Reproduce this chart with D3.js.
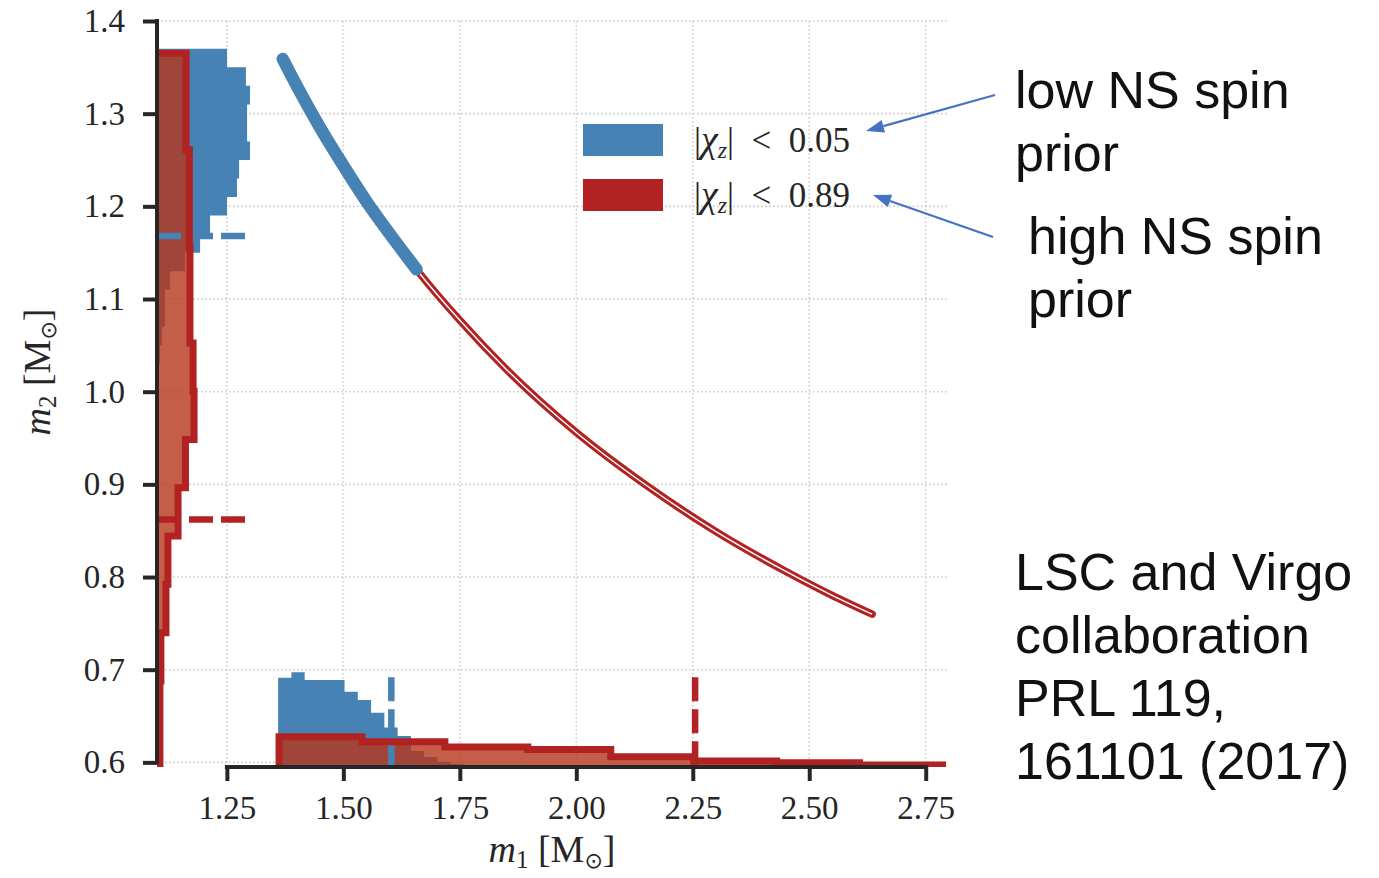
<!DOCTYPE html>
<html>
<head>
<meta charset="utf-8">
<script src="https://cdn.jsdelivr.net/npm/d3@7"></script>
<style>
  body { margin: 0; background: #fff; }
  svg { display: block; }
</style>
</head>
<body>
<svg id="chart" width="1379" height="878"></svg>
<script>
// ---- data ----
const xTicks = [1.25, 1.50, 1.75, 2.00, 2.25, 2.50, 2.75];
const yTicks = [0.6, 0.7, 0.8, 0.9, 1.0, 1.1, 1.2, 1.3, 1.4];

// samples band in the m1-m2 plane
const curveM1 = [1.37, 1.40, 1.45, 1.50, 1.55, 1.60, 1.66, 1.75, 1.85, 2.00, 2.15, 2.30, 2.45, 2.55, 2.635];
const curveM2 = [1.359, 1.330, 1.285, 1.244, 1.205, 1.170, 1.130, 1.077, 1.024, 0.956, 0.899, 0.849, 0.806, 0.780, 0.760];
const lowSpinMaxM1 = 1.657;   // low spin band stops here

// marginal histograms (density)
const lowM1Edges = [1.36, 1.3885, 1.417, 1.4455, 1.474, 1.5025, 1.531, 1.5595, 1.588, 1.6165, 1.645, 1.6735, 1.702, 1.7305, 1.759, 1.7875];
const lowM1Dens  = [4.58, 4.86, 4.46, 4.46, 4.46, 3.86, 3.44, 2.78, 2.02, 1.59, 0.82, 0.51, 0.26, 0.15, 0.08];
const highM1Edges = [1.362, 1.540, 1.718, 1.896, 2.074, 2.252, 2.430, 2.608, 2.786];
const highM1Dens  = [1.55, 1.30, 1.02, 0.90, 0.53, 0.31, 0.22, 0.10];

const lowM2Edges = [1.03, 1.05, 1.07, 1.09, 1.11, 1.13, 1.15, 1.17, 1.19, 1.21, 1.23, 1.25, 1.27, 1.29, 1.31, 1.33, 1.35, 1.37];
const lowM2Dens  = [0.15, 0.26, 0.41, 0.41, 0.67, 1.44, 2.21, 2.72, 3.59, 4.10, 4.21, 4.77, 4.62, 4.62, 4.77, 4.56, 3.59];
const highM2Edges = [0.5837, 0.6358, 0.6879, 0.7400, 0.7921, 0.8442, 0.8963, 0.9484, 1.0005, 1.0526, 1.1047, 1.1568, 1.2089, 1.2610, 1.3131, 1.3652];
const highM2Dens  = [0.15, 0.15, 0.20, 0.46, 0.56, 1.08, 1.46, 1.90, 1.85, 1.69, 1.69, 1.66, 1.66, 1.49, 1.49];

// 90% limits (dashed)
const limitM1 = [1.603, 2.255];   // low, high spin
const limitM2 = [1.168, 0.862];

const legendLabels = ["0.05", "0.89"];
const noteLow = ["low NS spin", "prior"];
const noteHigh = ["high NS spin", "prior"];
const noteRef = ["LSC and Virgo", "collaboration", "PRL 119,", "161101 (2017)"];

// ---- setup ----
const BLUE = "steelblue", RED = "firebrick", INK = "#262626";
const svg = d3.select("#chart");

const x = d3.scaleLinear().domain([1.1, 2.8]).range([157, 949]);
const y = d3.scaleLinear().domain([0.595, 1.4]).range([767, 21]);
// marginal density scales
const dx = d3.scaleLinear().domain([0, 5]).range([x(1.1), x(1.1) + 97.5]);
const dy = d3.scaleLinear().domain([0, 5]).range([y(0.595), y(0.595) - 97.5]);

svg.append("defs").append("clipPath").attr("id", "plot")
  .append("rect")
  .attr("x", x(1.1)).attr("y", y(1.4) - 10)
  .attr("width", x(2.8) - x(1.1) + 4).attr("height", y(0.595) - y(1.4) + 10);

// grid
const grid = svg.append("g")
  .attr("stroke", "#cbcbcb").attr("stroke-width", 1.6).attr("stroke-dasharray", "1.6,2.4");
grid.selectAll(".gx").data(xTicks).enter().append("line")
  .attr("x1", d => x(d)).attr("x2", d => x(d))
  .attr("y1", y(1.4)).attr("y2", y(0.595));
grid.selectAll(".gy").data(yTicks).enter().append("line")
  .attr("x1", x(1.1)).attr("x2", x(2.8))
  .attr("y1", d => y(d)).attr("y2", d => y(d));

// step outlines for histograms
function bottomSteps(edges, dens) {
  const pts = [[edges[0], 0]];
  dens.forEach((d, i) => { pts.push([edges[i], d]); pts.push([edges[i + 1], d]); });
  pts.push([edges[edges.length - 1], 0]);
  return pts;
}
function leftSteps(edges, dens) {
  const pts = [[0, edges[0]]];
  dens.forEach((d, i) => { pts.push([d, edges[i]]); pts.push([d, edges[i + 1]]); });
  pts.push([0, edges[edges.length - 1]]);
  return pts;
}
const bLine = d3.line().x(p => x(p[0])).y(p => dy(p[1]));
const lLine = d3.line().x(p => dx(p[0])).y(p => y(p[1]));

const marg = svg.append("g").attr("clip-path", "url(#plot)");

// low spin histograms (solid blue)
marg.append("path").attr("d", bLine(bottomSteps(lowM1Edges, lowM1Dens)) + "Z").attr("fill", BLUE);
marg.append("path").attr("d", lLine(leftSteps(lowM2Edges, lowM2Dens)) + "Z").attr("fill", BLUE);

// high spin histograms, translucent fill
marg.append("path").attr("d", bLine(bottomSteps(highM1Edges, highM1Dens)) + "Z")
  .attr("fill", "rgb(181,54,26)").attr("fill-opacity", 0.8);
marg.append("path").attr("d", lLine(leftSteps(highM2Edges, highM2Dens)) + "Z")
  .attr("fill", "rgb(181,54,26)").attr("fill-opacity", 0.8);

// dashed limits
const dashCol = [BLUE, RED];
marg.selectAll(".vlim").data(limitM1).enter().append("line")
  .attr("x1", d => x(d)).attr("x2", d => x(d))
  .attr("y1", dy(4.6)).attr("y2", dy(0))
  .attr("stroke", (d, i) => dashCol[i]).attr("stroke-width", 6.5).attr("stroke-dasharray", "24,8");
marg.selectAll(".hlim").data(limitM2).enter().append("line")
  .attr("x1", dx(0)).attr("x2", dx(4.6))
  .attr("y1", d => y(d)).attr("y2", d => y(d))
  .attr("stroke", (d, i) => dashCol[i]).attr("stroke-width", 6.5).attr("stroke-dasharray", "24,8");

// high spin outlines
marg.append("path").attr("d", bLine(bottomSteps(highM1Edges, highM1Dens)))
  .attr("fill", "none").attr("stroke", RED).attr("stroke-width", 7);
marg.append("path").attr("d", lLine(leftSteps(highM2Edges, highM2Dens)))
  .attr("fill", "none").attr("stroke", RED).attr("stroke-width", 7);

// m1-m2 band
const pts = curveM1.map((m, i) => [m, curveM2[i]]);
const cLine = d3.line().x(p => x(p[0])).y(p => y(p[1])).curve(d3.curveMonotoneX);
svg.append("path").attr("d", cLine(pts)).attr("fill", "none")
  .attr("stroke", RED).attr("stroke-width", 7.5).attr("stroke-linecap", "round");
svg.append("path").attr("d", cLine(pts)).attr("fill", "none")
  .attr("stroke", "#fff").attr("stroke-width", 1.4);
const lowPts = pts.filter(p => p[0] <= lowSpinMaxM1);
const lastIdx = pts.findIndex(p => p[0] > lowSpinMaxM1);
// close the blue band at its end value along the curve
const a = pts[lastIdx - 1], b = pts[lastIdx];
const t = (lowSpinMaxM1 - a[0]) / (b[0] - a[0]);
lowPts.push([lowSpinMaxM1, a[1] + t * (b[1] - a[1])]);
svg.append("path").attr("d", cLine(lowPts)).attr("fill", "none")
  .attr("stroke", BLUE).attr("stroke-width", 12.5).attr("stroke-linecap", "round");

// axes
const xAxis = svg.append("g").attr("transform", `translate(0,${y(0.595)})`)
  .call(d3.axisBottom(x).tickValues(xTicks).tickFormat(d3.format(".2f")).tickSize(14).tickPadding(15));
const yAxis = svg.append("g").attr("transform", `translate(${x(1.1)},0)`)
  .call(d3.axisLeft(y).tickValues(yTicks).tickFormat(d3.format(".1f")).tickSize(14).tickPadding(18));
[xAxis, yAxis].forEach(g => {
  g.select(".domain").remove();
  g.selectAll(".tick line").attr("stroke", INK).attr("stroke-width", 4);
  g.selectAll(".tick text").attr("fill", INK)
    .style("font-family", "'Liberation Serif', serif").style("font-size", "33px");
});
// trimmed spines
svg.append("line").attr("x1", x(1.25) - 2).attr("x2", x(2.75) + 2)
  .attr("y1", y(0.595)).attr("y2", y(0.595)).attr("stroke", INK).attr("stroke-width", 4);
svg.append("line").attr("x1", x(1.1)).attr("x2", x(1.1))
  .attr("y1", y(1.4) - 2).attr("y2", y(0.6) + 2).attr("stroke", INK).attr("stroke-width", 4);

// axis labels
function massLabel(sel, idx) {
  sel.append("tspan").attr("font-style", "italic").text("m");
  sel.append("tspan").attr("font-size", 25).attr("dy", 6).text(idx);
  sel.append("tspan").attr("dy", -6).text(" [M");
  sel.append("tspan").attr("font-size", 22).attr("dy", 6).attr("font-family", "'DejaVu Sans'").text("⊙");
  sel.append("tspan").attr("dy", -6).text("]");
}
const xl = svg.append("text").attr("x", 552).attr("y", 862).attr("text-anchor", "middle")
  .attr("font-family", "'Liberation Serif', serif").attr("font-size", 38).attr("fill", INK);
massLabel(xl, "1");
const yl = svg.append("text").attr("transform", "translate(50,372) rotate(-90)").attr("text-anchor", "middle")
  .attr("font-family", "'Liberation Serif', serif").attr("font-size", 38).attr("fill", INK);
massLabel(yl, "2");

// legend
const leg = svg.append("g");
[BLUE, RED].forEach((c, i) => {
  leg.append("rect").attr("x", 583).attr("y", 124 + i * 55).attr("width", 80).attr("height", 32).attr("fill", c);
  const tx = leg.append("text").attr("x", 694).attr("y", 152 + i * 55)
    .attr("font-family", "'Liberation Serif', serif").attr("font-size", 35).attr("fill", INK)
    .style("white-space", "pre");
  tx.append("tspan").text("|");
  tx.append("tspan").attr("font-style", "italic").attr("font-size", 38).text("χ");
  tx.append("tspan").attr("font-style", "italic").attr("font-size", 24).attr("dy", 6).text("z");
  tx.append("tspan").attr("dy", -6).text("|\u2002<\u2002" + legendLabels[i]);
});

// annotations
const ARROW = "#4472c4";
function arrow(x1, y1, x2, y2) {
  const ang = Math.atan2(y2 - y1, x2 - x1), L = 18, W = 6.5;
  const bx = x2 - L * Math.cos(ang), by = y2 - L * Math.sin(ang);
  svg.append("line").attr("x1", x1).attr("y1", y1).attr("x2", bx).attr("y2", by)
    .attr("stroke", ARROW).attr("stroke-width", 2.2);
  svg.append("polygon").attr("fill", ARROW).attr("points", [
    [x2, y2],
    [bx + W * Math.sin(ang), by - W * Math.cos(ang)],
    [bx - W * Math.sin(ang), by + W * Math.cos(ang)]].map(p => p.join(",")).join(" "));
}
arrow(995, 95, 866, 131);
arrow(993, 237, 873, 195);

function note(lines, x0, y0) {
  svg.append("g").selectAll("text").data(lines).enter().append("text")
    .attr("x", x0).attr("y", (d, i) => y0 + i * 63)
    .attr("font-family", "'Liberation Sans', sans-serif").attr("font-size", 52).attr("fill", "#111")
    .text(d => d);
}
note(noteLow, 1015, 108);
note(noteHigh, 1028, 254);
note(noteRef, 1015, 590);
</script>
</body>
</html>
